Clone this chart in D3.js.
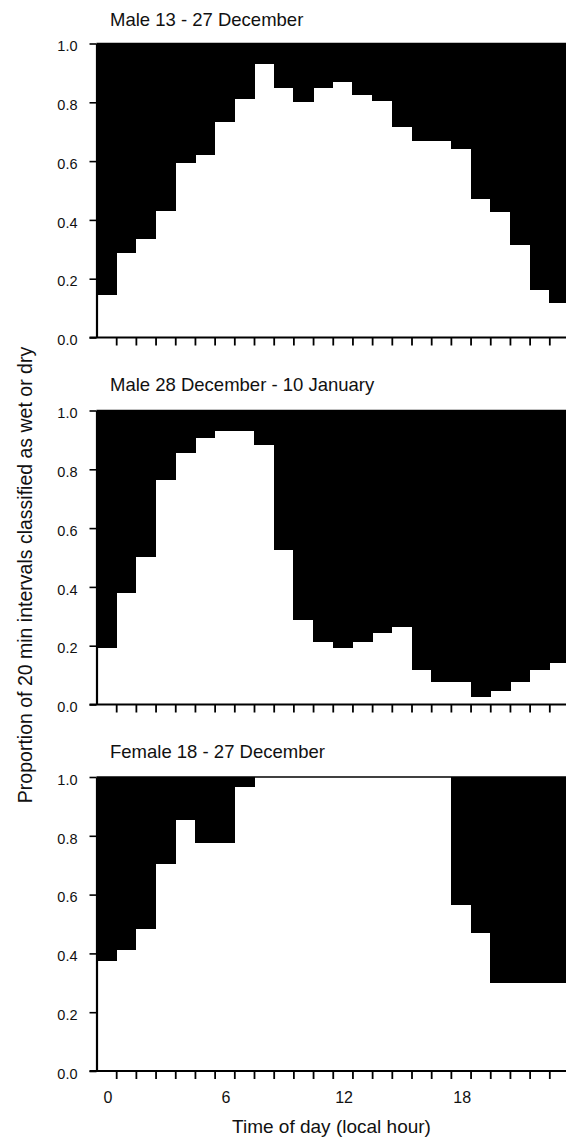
<!DOCTYPE html>
<html>
<head>
<meta charset="utf-8">
<script src="https://cdn.jsdelivr.net/npm/d3@7"></script>
<style>
  html, body { margin: 0; padding: 0; background: #fff; }
  svg { display: block; }
  text { font-family: "Liberation Sans", Arial, sans-serif; fill: #111; }
</style>
</head>
<body>
<svg id="chart" width="566" height="1139"></svg>
<script>
// ---- data ----
const hours = d3.range(24);                      // local hour 0..23
const maleDec13_27 = [0.143, 0.286, 0.334, 0.431, 0.595, 0.620, 0.734, 0.810,
                      0.930, 0.847, 0.802, 0.847, 0.870, 0.825, 0.804, 0.715,
                      0.669, 0.669, 0.642, 0.471, 0.427, 0.316, 0.161, 0.118];
const maleDec28_Jan10 = [0.192, 0.380, 0.502, 0.764, 0.857, 0.908, 0.931, 0.931,
                         0.881, 0.524, 0.286, 0.213, 0.192, 0.213, 0.242, 0.264,
                         0.119, 0.076, 0.076, 0.026, 0.047, 0.076, 0.119, 0.142];
const femaleDec18_27 = [0.374, 0.411, 0.484, 0.704, 0.853, 0.777, 0.777, 0.966,
                        1.0, 1.0, 1.0, 1.0, 1.0, 1.0, 1.0, 1.0,
                        1.0, 1.0, 0.566, 0.469, 0.301, 0.301, 0.301, 0.301];
const panelTitles = ["Male 13 - 27 December", "Male 28 December - 10 January", "Female 18 - 27 December"];
const yTickValues = [0, 0.2, 0.4, 0.6, 0.8, 1.0];
const xTickLabels = [0, 6, 12, 18];
const xAxisTitle = "Time of day (local hour)";
const yAxisTitle = "Proportion of 20 min intervals classified as wet or dry";

const series = [maleDec13_27, maleDec28_Jan10, femaleDec18_27];

// ---- layout ----
const panelTop = [43.5, 410.5, 777];
const panelH = 294;
const titleBaseline = [26, 391, 758];

const svg = d3.select("#chart");
const x = d3.scaleLinear().domain([-0.5, 23.5]).range([96.5, 569]);
const bw = x(1) - x(0);

series.forEach((vals, p) => {
  const top = panelTop[p];
  const y = d3.scaleLinear().domain([0, 1]).range([top + panelH, top]);
  const g = svg.append("g");

  // black (complement) bars from value up to 1.0
  g.selectAll("rect.bar").data(hours).join("rect")
    .attr("class", "bar")
    .attr("x", d => x(d - 0.5))
    .attr("width", bw + 0.6)
    .attr("y", y(1))
    .attr("height", d => Math.max(0, y(vals[d]) - y(1)))
    .attr("fill", "#000")
    .attr("shape-rendering", "crispEdges");

  // top border at 1.0
  g.append("line")
    .attr("x1", x(-0.5)).attr("x2", x(23.5))
    .attr("y1", y(1)).attr("y2", y(1))
    .attr("stroke", "#000").attr("stroke-width", 1.5);

  // y axis
  const ya = g.append("g")
    .attr("transform", `translate(${x(-0.5)},0)`)
    .call(d3.axisLeft(y).tickValues(yTickValues).tickFormat(d3.format(".1f"))
      .tickSize(7).tickPadding(12).tickSizeOuter(0));
  ya.select(".domain").attr("stroke-width", 2.2).attr("stroke", "#000");
  ya.selectAll(".tick line").attr("stroke-width", 1.6).attr("stroke", "#000");
  ya.selectAll(".tick text").attr("font-size", 14.5).attr("dy", "0.5em")
    .attr("font-family", "Liberation Sans, Arial, sans-serif").attr("fill", "#111");

  // x axis: line + ticks at hour boundaries
  const xa = g.append("g")
    .attr("transform", `translate(0,${y(0)})`)
    .call(d3.axisBottom(x).tickValues(d3.range(0.5, 23, 1)).tickFormat("")
      .tickSize(8).tickSizeOuter(0));
  xa.select(".domain").remove();
  xa.selectAll(".tick line").attr("stroke-width", 1.8).attr("stroke", "#000");
  g.append("line")
    .attr("x1", x(-0.5) - 7).attr("x2", x(23.5))
    .attr("y1", y(0)).attr("y2", y(0))
    .attr("stroke", "#000").attr("stroke-width", 2.2);

  // panel title
  g.append("text")
    .attr("x", 110).attr("y", titleBaseline[p])
    .attr("font-size", 18.5)
    .text(panelTitles[p]);

  // x tick labels on bottom panel only
  if (p === series.length - 1) {
    g.selectAll("text.xl").data(xTickLabels).join("text")
      .attr("class", "xl")
      .attr("x", d => x(d) + 1.5)
      .attr("y", 1103)
      .attr("text-anchor", "middle")
      .attr("font-size", 16)
      .text(d => d);
    g.append("text")
      .attr("x", 331.5).attr("y", 1133)
      .attr("text-anchor", "middle")
      .attr("font-size", 19)
      .text(xAxisTitle);
  }
});

// y axis title
svg.append("text")
  .attr("transform", "translate(32,575) rotate(-90)")
  .attr("text-anchor", "middle")
  .attr("font-size", 19.5)
  .text(yAxisTitle);
</script>
</body>
</html>
